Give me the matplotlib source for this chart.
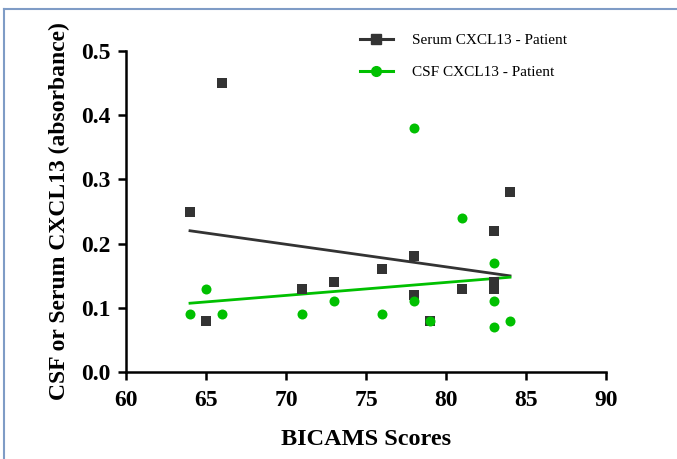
import numpy as np
import matplotlib
matplotlib.use("Agg")
import matplotlib.pyplot as plt
from matplotlib.lines import Line2D

# BICAMS scores (same patients for both series)
bicams = [64, 65, 66, 71, 73, 76, 78, 78, 79, 81, 83, 83, 83, 84]
serum_cxcl13 = [0.25, 0.08, 0.45, 0.13, 0.14, 0.16, 0.18, 0.12, 0.08, 0.13, 0.22, 0.14, 0.13, 0.28]
csf_cxcl13 = [0.09, 0.13, 0.09, 0.09, 0.11, 0.09, 0.38, 0.11, 0.08, 0.24, 0.17, 0.11, 0.07, 0.08]

x_ticks = [60, 65, 70, 75, 80, 85, 90]
y_ticks = [0.0, 0.1, 0.2, 0.3, 0.4, 0.5]

serum_col = "#333333"
csf_col = "#00c000"

plt.rcParams["font.family"] = ["Liberation Serif", "DejaVu Serif"]

fig = plt.figure(figsize=(6.77, 4.59), dpi=100)
ax = fig.add_axes([126/677, 1 - 372/459, (606 - 126)/677, (372 - 51)/459])

x = np.array(bicams, dtype=float)
xfit = np.array([x.min(), x.max()])

for yv, col, mk, lab in [(serum_cxcl13, serum_col, "s", "Serum CXCL13 - Patient"),
                         (csf_cxcl13, csf_col, "o", "CSF CXCL13 - Patient")]:
	yv = np.array(yv)
	ax.plot(x, yv, linestyle="none", marker=mk, markersize=7.2, color=col,
			markeredgewidth=0, zorder=3)
	k, b = np.polyfit(x, yv, 1)
	ax.plot(xfit, k * xfit + b, color=col, linewidth=2, zorder=2)
	ax.plot([], [], color=col, marker=mk, markersize=7, linewidth=2.2, label=lab)

ax.set_xlim(60, 90)
ax.set_ylim(0, 0.5)
ax.set_xticks(x_ticks)
ax.set_yticks(y_ticks)
ax.set_yticklabels([f"{v:.1f}" for v in y_ticks])

for s in ["top", "right"]:
	ax.spines[s].set_visible(False)
for s in ["left", "bottom"]:
	ax.spines[s].set_linewidth(1.8)
ax.tick_params(width=1.8, length=6, labelsize=17, direction="out")
ax.tick_params(axis="x", pad=7)
ax.tick_params(axis="y", pad=5)
for lbl in ax.get_xticklabels() + ax.get_yticklabels():
	lbl.set_fontweight("bold")

ax.set_xlabel("BICAMS Scores", fontsize=17.5, fontweight="bold", labelpad=13)
ax.set_ylabel("CSF or Serum CXCL13 (absorbance)", fontsize=17, fontweight="bold", labelpad=8)

ax.legend(loc="upper left", bbox_to_anchor=(352/677, 1 - 26/459), bbox_transform=fig.transFigure,
		  frameon=False, fontsize=11, handlelength=2.2, handletextpad=1.2,
		  labelspacing=1.2, borderpad=0)

# outer frame of the panel
frame_col = "#7f9cc6"
fig.add_artist(Line2D([4/677, 4/677], [0, 1 - 9/459], transform=fig.transFigure, color=frame_col, linewidth=1.5))
fig.add_artist(Line2D([4/677, 1], [1 - 9/459, 1 - 9/459], transform=fig.transFigure, color=frame_col, linewidth=1.5))

fig.savefig("out.png", dpi=100)
plt.close(fig)
